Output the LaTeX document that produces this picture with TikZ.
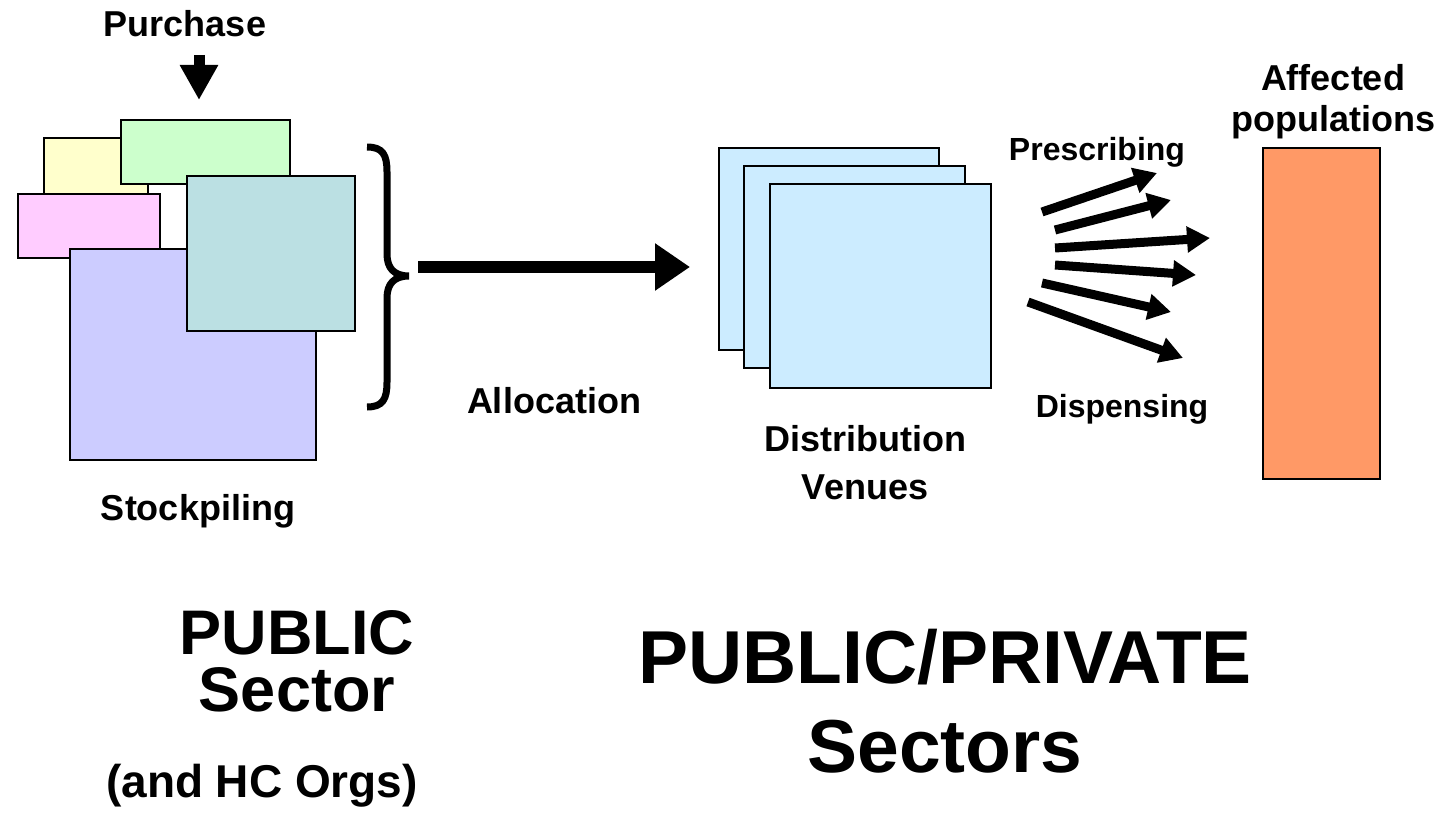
\documentclass[tikz,border=0pt]{standalone}
\usepackage{fontspec}
\setmainfont{Liberation Sans}
\usetikzlibrary{arrows.meta}

\definecolor{stockyellow}{HTML}{FFFFCC}
\definecolor{stockgreen}{HTML}{CCFFCC}
\definecolor{stockpink}{HTML}{FFCCFF}
\definecolor{stocklilac}{HTML}{CCCCFF}
\definecolor{stockteal}{HTML}{BBE0E3}
\definecolor{venueblue}{HTML}{CCECFF}
\definecolor{poporange}{HTML}{FF9966}

\tikzset{
  box/.style={draw, line width=1.8pt, inner sep=0pt, anchor=north west},
  lbl/.style={font=\bfseries\fontsize{36}{48}\selectfont, inner sep=0pt, align=center},
  smalllbl/.style={font=\bfseries\fontsize{32}{38}\selectfont, inner sep=0pt},
  biglbl/.style={font=\bfseries\fontsize{63}{57}\selectfont, inner sep=0pt, align=center},
  fan/.style={line width=9pt, -{Triangle[length=23pt,width=25pt]}},
}

\begin{document}
\begin{tikzpicture}[x=1pt,y=-1pt]
\useasboundingbox (0,0) rectangle (1443,829);

\node[box, fill=stockyellow, minimum width=104, minimum height=70] (yellow) at (43,137) {};
\node[box, fill=stockgreen, minimum width=169, minimum height=64] (green) at (120,119) {};
\node[box, fill=stockpink, minimum width=142, minimum height=64] (pink) at (17,193) {};
\node[box, fill=stocklilac, minimum width=246, minimum height=211] (lilac) at (69,248) {};
\node[box, fill=stockteal, minimum width=168, minimum height=155] (teal) at (186,175) {};

\node[lbl, anchor=base] (purchase) at (185,37) {Purchase};
\coordinate (buy) at (199,55);
\coordinate (buyend) at (199,100);
\draw[line width=11pt, -{Triangle[length=35pt,width=36pt]}] (buy) -- (buyend);

\node[lbl, anchor=base] (stock) at (198,520) {Stockpiling};

\draw[line width=7pt] (367,147) .. controls (383,147) and (387,155) .. (387,172) -- (387,254)
  .. controls (387,268) and (394,276) .. (409,276)
  .. controls (394,276) and (387,284) .. (387,298) -- (387,382)
  .. controls (387,399) and (383,407) .. (367,407);

\coordinate (allocstart) at (418,267);
\coordinate (allocend) at (690,267);
\draw[line width=12pt, -{Triangle[length=35pt,width=45pt]}] (allocstart) -- (allocend);
\node[lbl, anchor=base] (alloc) at (554,413) {Allocation};

\node[box, fill=venueblue, minimum width=220, minimum height=202] (back) at (718,147) {};
\node[box, fill=venueblue, minimum width=221, minimum height=202] (mid) at (743,165) {};
\node[box, fill=venueblue, minimum width=221, minimum height=204] (front) at (769,183) {};
\node[lbl, anchor=south] (venues) at (865,500) {Distribution\\Venues};

\foreach \i/\sx/\sy/\ex/\ey in {1/1042/212/1157/173, 2/1055/230/1171/200, 3/1055/248/1210/238,
    4/1055/265/1196/275, 5/1042/283/1171/312, 6/1028/302/1183/358} {
  \coordinate (s\i) at (\sx,\sy);
  \coordinate (e\i) at (\ex,\ey);
  \draw[fan] (s\i) -- (e\i);
}
\node[smalllbl, anchor=base] (prescr) at (1097,161) {Prescribing};
\node[smalllbl, anchor=base] (dispens) at (1122,417) {Dispensing};

\node[box, fill=poporange, minimum width=117, minimum height=331] (pop) at (1262,147) {};
\node[lbl, anchor=north, font=\bfseries\fontsize{36}{41}\selectfont] (affected) at (1333,64) {Affected\\populations};

\node[biglbl, anchor=south] (public) at (297,712) {PUBLIC\\Sector};
\node[lbl, anchor=base, font=\bfseries\fontsize{46}{50}\selectfont] (hc) at (262,797) {(and HC Orgs)};

\node[biglbl, anchor=south, font=\bfseries\fontsize{75}{89}\selectfont] (pubpriv) at (945,773) {PUBLIC/PRIVATE\\Sectors};

\end{tikzpicture}
\end{document}
